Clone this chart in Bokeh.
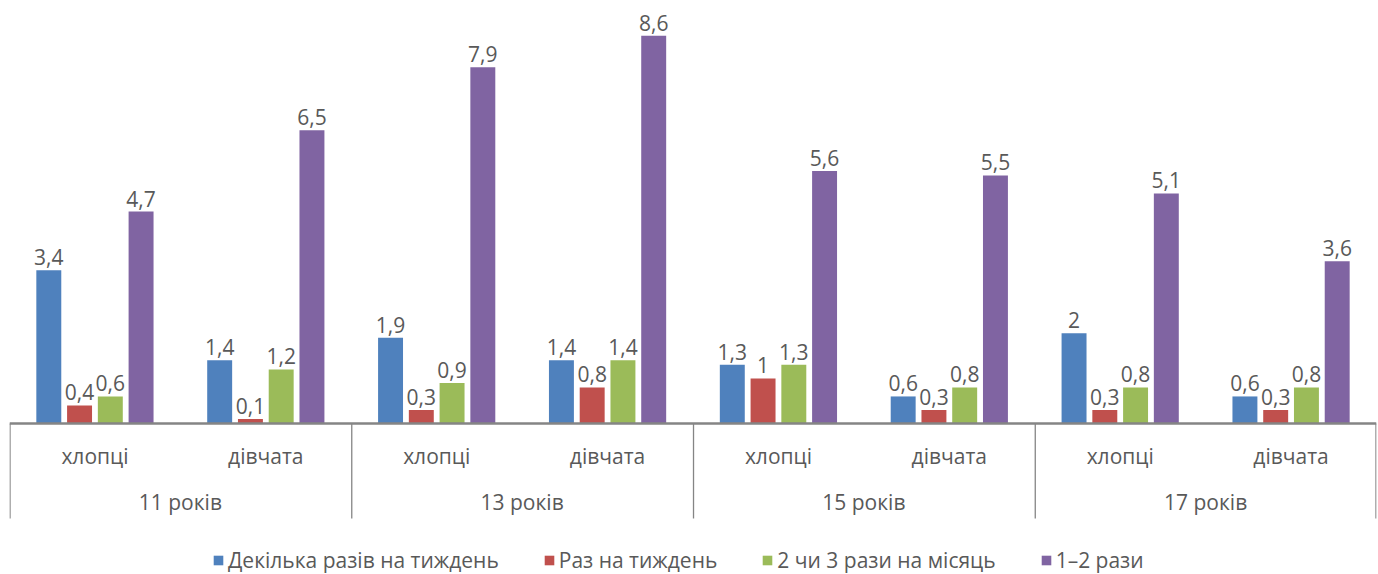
from bokeh.plotting import figure
from bokeh.models import ColumnDataSource, FactorRange, Span
from bokeh.transform import dodge
from bokeh.core.properties import value
from bokeh.embed import file_html
from bokeh.resources import INLINE

ages = ["11 років", "13 років", "15 років", "17 років"]
genders = ["хлопці", "дівчата"]
series = ["Декілька разів на тиждень", "Раз на тиждень", "2 чи 3 рази на місяць", "1–2 рази"]
colors = ["#4F81BD", "#C0504D", "#9BBB59", "#8064A2"]

several_per_week = [3.4, 1.4, 1.9, 1.4, 1.3, 0.6, 2.0, 0.6]
once_per_week = [0.4, 0.1, 0.3, 0.8, 1.0, 0.3, 0.3, 0.3]
two_three_month = [0.6, 1.2, 0.9, 1.4, 1.3, 0.8, 0.8, 0.8]
one_two_times = [4.7, 6.5, 7.9, 8.6, 5.6, 5.5, 5.1, 3.6]
values = [several_per_week, once_per_week, two_three_month, one_two_times]

FONT = "Open Sans"
FS = "21px"
TXT = "#595959"
GRAY = "#858585"

factors = [(a, g) for a in ages for g in genders]

def fmt(v):
    s = ("%g" % v)
    return s.replace(".", ",")

p = figure(width=1378, height=574, output_backend="svg", toolbar_location=None,
           x_range=FactorRange(*factors, range_padding=0, group_padding=0, factor_padding=0),
           y_range=(-3.348, 9.379), x_axis_location=None, y_axis_location=None,
           min_border_left=9, min_border_right=2, min_border_top=0, min_border_bottom=0)
p.outline_line_color = None
p.xgrid.visible = False
p.ygrid.visible = False

offsets = [-0.27, -0.09, 0.09, 0.27]
for name, vals, col, off in zip(series, values, colors, offsets):
    src = ColumnDataSource(dict(x=factors, top=vals, lab=[fmt(v) for v in vals]))
    p.vbar(x=dodge("x", off, range=p.x_range), top="top", width=0.146, source=src,
           color=col, line_color=None, legend_label=name)
    p.text(x=dodge("x", off, range=p.x_range), y="top", text="lab", source=src,
           text_align="center", text_baseline="bottom", y_offset=-5,
           text_font=value(FONT), text_font_size=FS, text_color=TXT)

# baseline
p.add_layout(Span(location=0, dimension="width", line_color=GRAY, line_width=2.5))

# separators
sep_src = ColumnDataSource(dict(x=[(a, "хлопці") for a in ages]))
p.segment(x0=dodge("x", -0.497, range=p.x_range), y0=0, x1=dodge("x", -0.497, range=p.x_range),
          y1=-2.106, source=sep_src, line_color=GRAY, line_width=1.3)
end_src = ColumnDataSource(dict(x=[(ages[-1], "дівчата")]))
p.segment(x0=dodge("x", 0.497, range=p.x_range), y0=0, x1=dodge("x", 0.497, range=p.x_range),
          y1=-2.106, source=end_src, line_color=GRAY, line_width=1.3)

# category labels
g_src = ColumnDataSource(dict(x=factors, lab=[f[1] for f in factors]))
p.text(x="x", y=-0.73, text="lab", source=g_src, text_align="center", text_baseline="middle",
       text_font=value(FONT), text_font_size=FS, text_color=TXT)
a_src = ColumnDataSource(dict(x=ages, lab=ages))
p.text(x="x", y=-1.73, text="lab", source=a_src, text_align="center", text_baseline="middle",
       text_font=value(FONT), text_font_size=FS, text_color=TXT)

lg = p.legend[0]
lg.location = (203, 0)
lg.orientation = "horizontal"
lg.border_line_color = None
lg.background_fill_alpha = 0
lg.label_text_font = FONT
lg.label_text_font_size = FS
lg.label_text_color = TXT
lg.glyph_width = 12
lg.glyph_height = 12
lg.label_standoff = 4
lg.spacing = 44
lg.margin = 0
lg.padding = 1

open("out.html", "w").write(file_html(p, INLINE))
